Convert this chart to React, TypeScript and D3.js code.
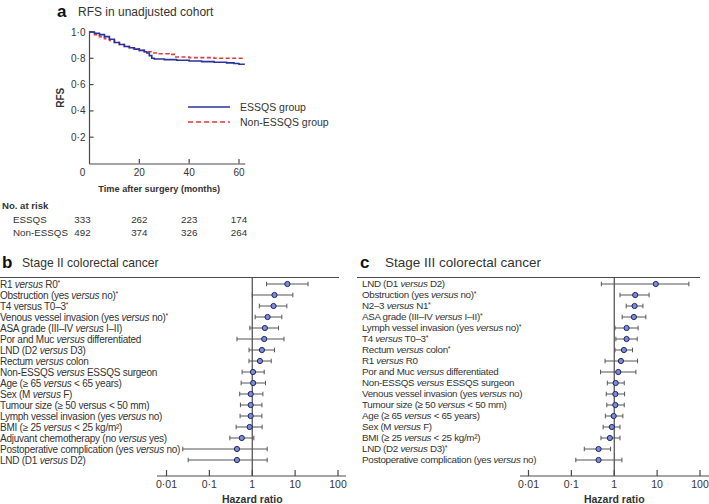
import React from "react";
import * as d3 from "d3";

// Panel a: Kaplan-Meier RFS curves (months, survival)
const essqsTime = [0, 2, 4, 6, 8, 10, 12, 14, 16, 18, 20, 22, 23, 24, 25, 26, 30, 35, 40, 45, 50, 55, 58, 60, 62];
const essqsRFS = [1.0, 0.99, 0.98, 0.965, 0.945, 0.92, 0.905, 0.89, 0.88, 0.87, 0.86, 0.85, 0.84, 0.82, 0.8, 0.795, 0.79, 0.785, 0.78, 0.775, 0.77, 0.765, 0.76, 0.755, 0.75];
const nonTime = [0, 2, 4, 6, 8, 10, 12, 14, 16, 18, 20, 22, 25, 28, 32, 34, 40, 50, 62];
const nonRFS = [1.0, 0.98, 0.965, 0.95, 0.935, 0.92, 0.905, 0.89, 0.88, 0.87, 0.86, 0.85, 0.84, 0.835, 0.83, 0.81, 0.805, 0.8, 0.8];
const rfsTicks = [0.2, 0.4, 0.6, 0.8, 1.0];
const monthTicks = [20, 40, 60];
const riskMonths = [0, 20, 40, 60];
const riskESSQS = [333, 262, 223, 174];
const riskNon = [492, 374, 326, 264];

// Panel b: stage II hazard ratios ("~" toggles italic, "^" = significance mark)
const labelsII = [
  "R1 ~versus~ R0^",
  "Obstruction (yes ~versus~ no)^",
  "T4 versus T0–3^",
  "Venous vessel invasion (yes ~versus~ no)^",
  "ASA grade (III–IV ~versus~ I–II)",
  "Por and Muc ~versus~ differentiated",
  "LND (D2 ~versus~ D3)",
  "Rectum ~versus~ colon",
  "Non-ESSQS ~versus~ ESSQS surgeon",
  "Age (≥ 65 ~versus~ < 65 years)",
  "Sex (M ~versus~ F)",
  "Tumour size (≥ 50 versus < 50 mm)",
  "Lymph vessel invasion (yes ~versus~ no)",
  "BMI (≥ 25 ~versus~ < 25 kg/m²)",
  "Adjuvant chemotherapy (no ~versus~ yes)",
  "Postoperative complication (yes ~versus~ no)",
  "LND (D1 ~versus~ D2)",
];
const hrII = [6.6, 3.3, 3.14, 2.28, 1.97, 1.9, 1.68, 1.51, 1.04, 1.05, 0.92, 0.92, 0.92, 0.87, 0.57, 0.44, 0.44];
const loII = [2.16, 1.0, 1.46, 1.17, 0.88, 0.44, 0.84, 0.84, 0.58, 0.55, 0.51, 0.53, 0.52, 0.42, 0.3, 0.024, 0.032];
const hiII = [20, 8.85, 6.4, 4.9, 4.1, 5.5, 3.3, 2.77, 1.9, 2.04, 1.77, 1.68, 1.68, 1.7, 1.09, 2.23, 2.23];

// Panel c: stage III hazard ratios
const labelsIII = [
  "LND (D1 ~versus~ D2)",
  "Obstruction (yes ~versus~ no)^",
  "N2–3 ~versus~ N1^",
  "ASA grade (III–IV ~versus~ I–II)^",
  "Lymph vessel invasion (yes ~versus~ no)^",
  "T4 ~versus~ T0–3^",
  "Rectum ~versus~ colon^",
  "R1 ~versus~ R0",
  "Por and Muc ~versus~ differentiated",
  "Non-ESSQS ~versus~ ESSQS surgeon",
  "Venous vessel invasion (yes ~versus~ no)",
  "Tumour size (≥ 50 ~versus~ < 50 mm)",
  "Age (≥ 65 ~versus~ < 65 years)",
  "Sex (M ~versus~ F)",
  "BMI (≥ 25 ~versus~ < 25 kg/m²)",
  "LND (D2 ~versus~ D3)^",
  "Postoperative complication (yes ~versus~ no)",
];
const hrIII = [9.3, 3.08, 2.98, 2.87, 1.94, 1.94, 1.68, 1.43, 1.24, 1.08, 1.06, 1.06, 0.97, 0.88, 0.79, 0.43, 0.43];
const loIII = [0.5, 1.36, 1.9, 1.53, 1.04, 1.09, 1.04, 0.61, 0.48, 0.69, 0.65, 0.67, 0.62, 0.55, 0.49, 0.2, 0.127];
const hiIII = [55, 6.5, 4.66, 5.46, 3.6, 3.43, 2.67, 3.5, 3.2, 1.71, 1.74, 1.71, 1.59, 1.36, 1.36, 0.82, 1.51];

const hrTicks = [0.01, 0.1, 1, 10, 100];

const FONT = "'Liberation Sans', Arial, sans-serif";
const TEXT = "#333";
const AXIS = "#4a4a4a";
const BLUE = "#28349c";
const RED = "#e3383a";
const dot = (v: number | string) => String(v).replace(".", "·");

function Label({ x, y, text, size, spacing }: { x: number; y: number; text: string; size: number; spacing: number }) {
  const star = text.endsWith("^");
  const parts = (star ? text.slice(0, -1) : text).split("~");
  return (
    <text x={x} y={y} dy="0.35em" fontSize={size} letterSpacing={spacing} fill={TEXT}>
      {parts.map((p, i) => (
        <tspan key={i} fontStyle={i % 2 === 1 ? "italic" : "normal"}>{p}</tspan>
      ))}
      {star && <tspan fontSize={size * 0.7} dy={-2.5}>*</tspan>}
    </text>
  );
}

function Forest(props: {
  labels: string[]; hr: number[]; lo: number[]; hi: number[];
  xr: [number, number]; labelX: number; labelSize: number; spacing: number;
  lineX: [number, number]; axisX: [number, number];
}) {
  const { labels, hr, lo, hi, xr, labelX, labelSize, spacing, lineX, axisX } = props;
  const x = d3.scaleLog().domain([0.01, 100]).range(xr);
  const y = d3.scalePoint<string>().domain(labels).range([284, 460]);
  const topY = 277.5;
  const axisY = 476;
  return (
    <g>
      <line x1={lineX[0]} x2={lineX[1]} y1={topY} y2={topY} stroke={AXIS} strokeWidth={1.2} />
      <line x1={x(1)} x2={x(1)} y1={topY} y2={axisY} stroke={AXIS} strokeWidth={1.2} />
      {labels.map((l, i) => {
        const cy = y(l)!;
        return (
          <g key={i}>
            <Label x={labelX} y={cy} text={l} size={labelSize} spacing={spacing} />
            <line x1={x(lo[i])} x2={x(hi[i])} y1={cy} y2={cy} stroke="#555" strokeWidth={1} />
            <line x1={x(lo[i])} x2={x(lo[i])} y1={cy - 2.3} y2={cy + 2.3} stroke="#555" strokeWidth={1} />
            <line x1={x(hi[i])} x2={x(hi[i])} y1={cy - 2.3} y2={cy + 2.3} stroke="#555" strokeWidth={1} />
            <circle cx={x(hr[i])} cy={cy} r={2.6} fill="#7d8cd6" stroke="#1d2466" strokeWidth={1} />
          </g>
        );
      })}
      <line x1={axisX[0]} x2={axisX[1]} y1={axisY} y2={axisY} stroke={AXIS} strokeWidth={1.2} />
      {hrTicks.map((t) => (
        <g key={t}>
          <line x1={x(t)} x2={x(t)} y1={axisY - 6} y2={axisY} stroke={AXIS} strokeWidth={1.2} />
          <text x={x(t)} y={axisY + 12} textAnchor="middle" fontSize={10.5} fill={TEXT}>{dot(t)}</text>
        </g>
      ))}
      <text x={x(1)} y={axisY + 27} textAnchor="middle" fontSize={10.5} fontWeight="bold" fill={TEXT}>Hazard ratio</text>
    </g>
  );
}

export default function App() {
  const xa = d3.scaleLinear().domain([0, 60]).range([89.5, 239]);
  const ya = d3.scaleLinear().domain([0, 1]).range([163.5, 32]);
  const line = d3.line<[number, number]>().x((d) => xa(d[0])).y((d) => ya(d[1])).curve(d3.curveStepAfter);
  const essqs = essqsTime.map((t, i) => [t, essqsRFS[i]] as [number, number]);
  const non = nonTime.map((t, i) => [t, nonRFS[i]] as [number, number]);
  const riskX = (m: number) => (m === 0 ? xa(0) - 7 : xa(m));

  return (
    <svg width={709} height={504} style={{ position: "absolute", left: 0, top: 0, background: "#fff" }} fontFamily={FONT}>
      {/* panel a */}
      <text x={57} y={17} fontSize={17} fontWeight="bold" fill="#111">a</text>
      <text x={78} y={16} fontSize={12} fill={TEXT}>RFS in unadjusted cohort</text>
      <line x1={xa(0)} x2={xa(0)} y1={ya(1) - 1} y2={ya(0) + 0.5} stroke={AXIS} strokeWidth={1.2} />
      <line x1={xa(0)} x2={xa(62.5)} y1={ya(0) + 0.5} y2={ya(0) + 0.5} stroke={AXIS} strokeWidth={1.2} />
      {rfsTicks.map((t) => (
        <g key={t}>
          <line x1={xa(0)} x2={xa(0) + 4} y1={ya(t)} y2={ya(t)} stroke={AXIS} strokeWidth={1.2} />
          <text x={xa(0) - 4} y={ya(t)} dy="0.35em" textAnchor="end" fontSize={10} fill={TEXT}>{dot(d3.format(".1f")(t))}</text>
        </g>
      ))}
      {monthTicks.map((t) => (
        <g key={t}>
          <line x1={xa(t)} x2={xa(t)} y1={ya(0) - 4.5} y2={ya(0)} stroke={AXIS} strokeWidth={1.2} />
          <text x={xa(t)} y={ya(0) + 12} textAnchor="middle" fontSize={10} fill={TEXT}>{t}</text>
        </g>
      ))}
      <text x={xa(0) - 7} y={ya(0) + 12} textAnchor="middle" fontSize={10} fill={TEXT}>0</text>
      <text transform={`translate(64,${ya(0.5)}) rotate(-90)`} textAnchor="middle" fontSize={10} fontWeight="bold" fill={TEXT}>RFS</text>
      <text x={xa(28)} y={192} textAnchor="middle" fontSize={9.2} fontWeight="bold" fill={TEXT}>Time after surgery (months)</text>
      <path d={line(non)!} fill="none" stroke={RED} strokeWidth={1.6} strokeDasharray="4,2.5" />
      <path d={line(essqs)!} fill="none" stroke={BLUE} strokeWidth={1.6} />
      {/* legend */}
      <line x1={188} x2={230} y1={107} y2={107} stroke={BLUE} strokeWidth={1.6} />
      <text x={240} y={107} dy="0.35em" fontSize={10.5} fill={TEXT}>ESSQS group</text>
      <line x1={188} x2={230} y1={122} y2={122} stroke={RED} strokeWidth={1.6} strokeDasharray="5,3" />
      <text x={240} y={122} dy="0.35em" fontSize={10.5} fill={TEXT}>Non-ESSQS group</text>
      {/* number at risk */}
      <text x={2} y={209} fontSize={9.6} fontWeight="bold" fill={TEXT}>No. at risk</text>
      <text x={13} y={223} fontSize={9.8} fill={TEXT}>ESSQS</text>
      <text x={13} y={236} fontSize={9.8} fill={TEXT}>Non-ESSQS</text>
      {riskMonths.map((m, i) => (
        <g key={m}>
          <text x={riskX(m)} y={223} textAnchor="middle" fontSize={9.8} fill={TEXT}>{riskESSQS[i]}</text>
          <text x={riskX(m)} y={236} textAnchor="middle" fontSize={9.8} fill={TEXT}>{riskNon[i]}</text>
        </g>
      ))}
      {/* panel b */}
      <text x={2} y={268} fontSize={17} fontWeight="bold" fill="#111">b</text>
      <text x={22} y={267} fontSize={12.1} fill={TEXT}>Stage II colorectal cancer</text>
      <Forest labels={labelsII} hr={hrII} lo={loII} hi={hiII} xr={[166.5, 338]} labelX={0} labelSize={10} spacing={-0.25}
        lineX={[0, 339]} axisX={[157, 346]} />
      {/* panel c */}
      <text x={360} y={268} fontSize={17} fontWeight="bold" fill="#111">c</text>
      <text x={385} y={267} fontSize={13.5} fill={TEXT}>Stage III colorectal cancer</text>
      <Forest labels={labelsIII} hr={hrIII} lo={loIII} hi={hiIII} xr={[528.5, 700]} labelX={362} labelSize={9.8} spacing={-0.3}
        lineX={[357, 700]} axisX={[520, 709]} />
    </svg>
  );
}
